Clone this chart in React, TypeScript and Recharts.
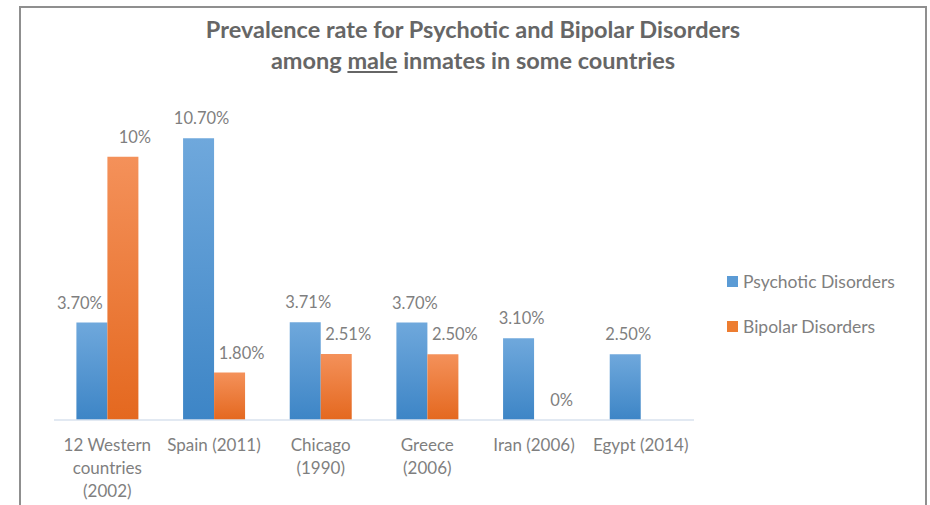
import React from "react";
import { BarChart, Bar, XAxis, YAxis, LabelList } from "recharts";

// Study / country labels ("\n" marks a line break in the axis label)
const categories = [
  "12 Western\ncountries\n(2002)",
  "Spain (2011)",
  "Chicago\n(1990)",
  "Greece\n(2006)",
  "Iran (2006)",
  "Egypt (2014)",
];

// Prevalence (%) per study
const psychotic: (number | null)[] = [3.7, 10.7, 3.71, 3.7, 3.1, 2.5];
const bipolar: (number | null)[] = [10, 1.8, 2.51, 2.5, 0, null];

const seriesNames = ["Psychotic Disorders", "Bipolar Disorders"];

const data = categories.map((name, i) => ({
  name,
  psychotic: psychotic[i],
  bipolar: bipolar[i],
}));

const FONT = "Lato, 'Open Sans', sans-serif";
const TEXT = "#7f7f7f";
const BLUE = "#5b9bd5";
const ORANGE = "#ed7d31";

const fmt = (v: number) =>
  Number.isInteger(v) ? `${v}%` : `${v.toFixed(2)}%`;

// Value label above a bar; the psychotic label steps aside when the
// neighbouring bipolar bar is taller than its own bar.
const makeLabel = (series: "psychotic" | "bipolar", dx: number) => (props: any) => {
  const { x, y, width, value, index } = props;
  if (value === null || value === undefined) return null;
  let shift = dx;
  if (series === "psychotic") {
    const other = bipolar[index];
    if (other !== null && other !== undefined && other > Number(value)) shift = -12;
  }
  return (
    <text
      x={Number(x) + Number(width) / 2 + shift}
      y={Number(y) - 20}
      textAnchor="middle"
      dominantBaseline="central"
      fill={TEXT}
      fontSize={16.5}
      fontFamily={FONT}
    >
      {fmt(Number(value))}
    </text>
  );
};

const CategoryTick = (props: any) => {
  const { x, y, payload } = props;
  const lines = String(payload.value).split("\n");
  return (
    <g transform={`translate(${x},${y})`}>
      <text textAnchor="middle" fill={TEXT} fontSize={17} fontFamily={FONT}>
        {lines.map((line, i) => (
          <tspan key={i} x={0} dy={i === 0 ? 31 : 23}>
            {line}
          </tspan>
        ))}
      </text>
    </g>
  );
};

const LegendBox = () => (
  <div
    style={{
      position: "absolute",
      left: 727,
      top: 270,
      fontFamily: FONT,
      fontSize: 17.5,
      color: TEXT,
      whiteSpace: "nowrap",
    }}
  >
    {seriesNames.map((n, i) => (
      <div
        key={n}
        style={{
          display: "flex",
          alignItems: "center",
          height: 22,
          marginBottom: i === 0 ? 23 : 0,
        }}
      >
        <span
          style={{
            display: "inline-block",
            width: 11,
            height: 11,
            background: i === 0 ? BLUE : ORANGE,
            marginRight: 5,
          }}
        />
        <span>{n}</span>
      </div>
    ))}
  </div>
);

// keep zero-valued bars in the layout so their "0%" label is still placed
const keepZero = (v: any) => (v === 0 ? 0.01 : 0);

export default function App() {
  return (
    <div
      style={{
        position: "absolute",
        left: 0,
        top: 0,
        width: 930,
        height: 505,
        overflow: "hidden",
        background: "#fff",
      }}
    >
      <div
        style={{
          position: "absolute",
          left: 19,
          top: 6,
          width: 904,
          height: 540,
          border: "2px solid #8f8f8f",
        }}
      />
      <div
        style={{
          position: "absolute",
          left: 21,
          top: 14,
          width: 904,
          textAlign: "center",
          fontFamily: FONT,
          fontWeight: 700,
          fontSize: 23.5,
          lineHeight: "31px",
          color: "#666666",
        }}
      >
        <div>Prevalence rate for Psychotic and Bipolar Disorders</div>
        <div>
          among <span style={{ textDecoration: "underline" }}>male</span>{" "}
          inmates in some countries
        </div>
      </div>
      <div style={{ position: "absolute", left: 0, top: 0 }}>
        <BarChart
          width={930}
          height={505}
          data={data}
          margin={{ top: 104, right: 236, bottom: 5, left: 54 }}
          barCategoryGap="21%"
          barGap={0}
        >
          <defs>
            <linearGradient id="gBlue" x1="0" y1="0" x2="0" y2="1">
              <stop offset="0%" stopColor="#6fa8dc" />
              <stop offset="100%" stopColor="#3d85c6" />
            </linearGradient>
            <linearGradient id="gOrange" x1="0" y1="0" x2="0" y2="1">
              <stop offset="0%" stopColor="#f4915a" />
              <stop offset="100%" stopColor="#e4681f" />
            </linearGradient>
          </defs>
          <XAxis
            dataKey="name"
            height={80}
            axisLine={{ stroke: "#d9e2ee", strokeWidth: 1.5 }}
            tickLine={false}
            tickSize={0}
            tickMargin={0}
            interval={0}
            tick={<CategoryTick />}
          />
          <YAxis hide domain={[0, 12]} />
          <Bar
            dataKey="psychotic"
            name={seriesNames[0]}
            fill="url(#gBlue)"
            isAnimationActive={false}
          >
            <LabelList dataKey="psychotic" content={makeLabel("psychotic", 3)} />
          </Bar>
          <Bar
            dataKey="bipolar"
            name={seriesNames[1]}
            fill="url(#gOrange)"
            minPointSize={keepZero}
            isAnimationActive={false}
          >
            <LabelList dataKey="bipolar" content={makeLabel("bipolar", 12)} />
          </Bar>
        </BarChart>
      </div>
      <LegendBox />
    </div>
  );
}
